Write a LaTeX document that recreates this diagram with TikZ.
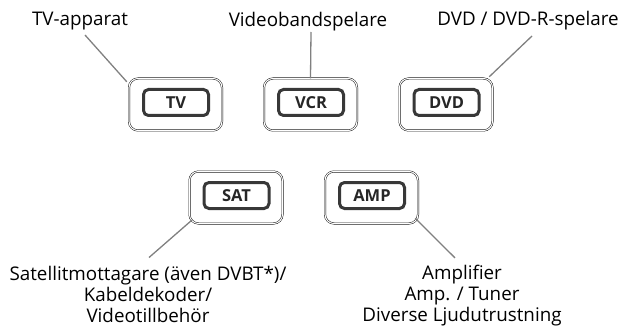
\documentclass[tikz,border=0pt]{standalone}
\usepackage{fontspec}
\setmainfont{Open Sans}
\begin{document}
\begin{tikzpicture}[x=1pt,y=1pt,
  lab/.style={font=\fontsize{18.8}{21}\selectfont, inner sep=0pt, anchor=base, align=center},
  outerbtn/.style={draw=black, double=white, double distance=1.1pt, line width=0.45pt,
    rounded corners=9pt, minimum width=93pt, minimum height=52pt, inner sep=0pt},
  innerbtn/.style={draw=black!78, line width=3pt, rounded corners=5pt,
    minimum width=65pt, minimum height=26pt, inner sep=0pt,
    font=\fontsize{16.5}{16.5}\selectfont\bfseries, text=black!85},
  conn/.style={draw=black!50, line width=1.3pt}]
\useasboundingbox (0,0) rectangle (620,327);

% top labels
\node[lab] (tvlab)  at (80,301)  {TV-apparat};
\node[lab] (vcrlab) at (308,300) {Videobandspelare};
\node[lab] (dvdlab) at (528,301) {DVD / DVD-R-spelare};

% buttons top row
\node[outerbtn] (tvo)  at (175.5,222.5) {};
\node[innerbtn] (tv)   at (176,224.5) {TV};
\node[outerbtn] (vcro) at (310.5,222.5) {};
\node[innerbtn] (vcr)  at (311,224.5) {VCR};
\node[outerbtn] (dvdo) at (446,222.5) {};
\node[innerbtn] (dvd)  at (446.5,224.5) {DVD};

% buttons bottom row
\node[outerbtn] (sato) at (236,129.5) {};
\node[innerbtn] (sat)  at (236.5,131.5) {SAT};
\node[outerbtn] (ampo) at (371.5,129.5) {};
\node[innerbtn] (amp)  at (372,131.5) {AMP};

% bottom labels (base = last line)
\node[lab] (satlab) at (148,5) {Satellitmottagare (även DVBT*)/\\Kabeldekoder/\\Videotillbehör};
\node[lab] (amplab) at (462,5.5) {Amplifier\\Amp. / Tuner\\Diverse Ljudutrustning};

% connectors
\draw[conn] ([shift={(5,-9)}]tvlab.base) -- ([shift={(-2,-3.5)}]tvo.north west);
\draw[conn] ([shift={(3,-5)}]vcrlab.base) -- (vcro.north);
\draw[conn] ([shift={(4,-10)}]dvdlab.base) -- ([shift={(-3.5,1.5)}]dvdo.north east);
\draw[conn] ([shift={(2.5,3.5)}]sato.south west) -- ([shift={(1,8)}]satlab.north);
\draw[conn] ([shift={(-3,5.5)}]ampo.south east) -- ([shift={(-7,7)}]amplab.north);
\end{tikzpicture}
\end{document}
